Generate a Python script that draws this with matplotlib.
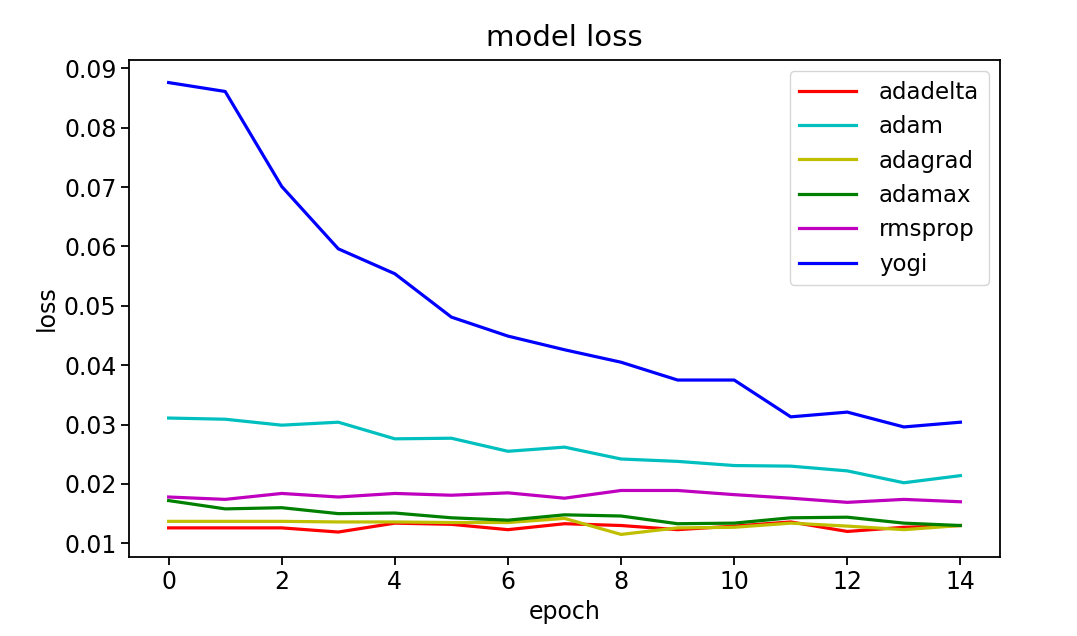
import matplotlib
matplotlib.use("Agg")
import matplotlib.pyplot as plt

# loss per epoch untuk tiap optimizer
epochs = list(range(15))
adadelta = [0.0126, 0.0126, 0.0126, 0.0119, 0.0134, 0.0132, 0.0123, 0.0133,
            0.0130, 0.0123, 0.0129, 0.0136, 0.0120, 0.0127, 0.0130]
adam = [0.0311, 0.0309, 0.0299, 0.0304, 0.0276, 0.0277, 0.0255, 0.0262,
        0.0242, 0.0238, 0.0231, 0.0230, 0.0222, 0.0202, 0.0214]
adagrad = [0.0137, 0.0137, 0.0137, 0.0136, 0.0136, 0.0135, 0.0135, 0.0142,
           0.0115, 0.0126, 0.0127, 0.0134, 0.0129, 0.0123, 0.0130]
adamax = [0.0172, 0.0158, 0.0160, 0.0150, 0.0151, 0.0143, 0.0139, 0.0148,
          0.0146, 0.0133, 0.0134, 0.0143, 0.0144, 0.0134, 0.0130]
rmsprop = [0.0178, 0.0174, 0.0184, 0.0178, 0.0184, 0.0181, 0.0185, 0.0176,
           0.0189, 0.0189, 0.0182, 0.0176, 0.0169, 0.0174, 0.0170]
yogi = [0.0876, 0.0861, 0.0701, 0.0596, 0.0554, 0.0481, 0.0449, 0.0426,
        0.0405, 0.0375, 0.0375, 0.0313, 0.0321, 0.0296, 0.0304]

names = ['adadelta', 'adam', 'adagrad', 'adamax', 'rmsprop', 'yogi']
colors = ['r', 'c', 'y', 'g', 'm', 'b']

fs = 17
fig = plt.figure(figsize=(10.77, 6.36), dpi=100)
ax = fig.add_axes([0.1198, 0.1242, 0.8087, 0.7815])
for vals, nm, col in zip([adadelta, adam, adagrad, adamax, rmsprop, yogi], names, colors):
    ax.plot(epochs, vals, color=col, label=nm, linewidth=2.3)

ax.set_title('model loss', fontsize=21, pad=10)
ax.set_xlabel('epoch', fontsize=fs, labelpad=5)
ax.set_ylabel('loss', fontsize=fs)
ax.set_xticks([0, 2, 4, 6, 8, 10, 12, 14])
ax.set_yticks([0.01, 0.02, 0.03, 0.04, 0.05, 0.06, 0.07, 0.08, 0.09])
ax.tick_params(labelsize=fs, length=5.5, width=1.3)
for sp in ax.spines.values():
    sp.set_linewidth(1.3)
ax.legend(loc='upper right', fontsize=16.5, handlelength=2.5,
          handletextpad=1.0, borderaxespad=0.5)

fig.savefig('out.png', dpi=100)
